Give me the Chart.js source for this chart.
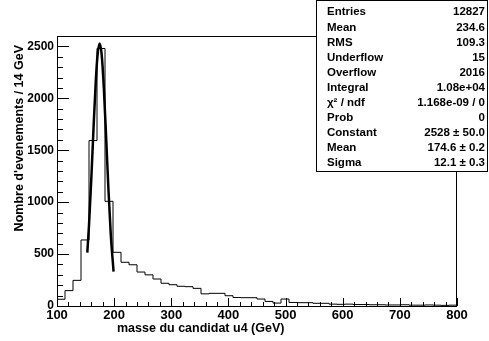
<!DOCTYPE html>
<html>
<head>
<meta charset="utf-8">
<script src="https://cdn.jsdelivr.net/npm/chart.js@4.4.1/dist/chart.umd.min.js"></script>
<style>
  body { margin: 0; background: #fff; }
  #wrap { width: 489px; height: 341px; }
</style>
</head>
<body>
<div id="wrap"><canvas id="c" width="489" height="341"></canvas></div>
<script>
// histogramme : 50 bins de 14 GeV entre 100 et 800
const binStart = 100;
const binWidth = 14;
const counts = [
  65, 148, 247, 636, 1593, 2480, 1008, 517, 421, 397,
  327, 300, 260, 219, 205, 190, 186, 170, 117, 122,
  122, 99, 82, 80, 80, 67, 44, 28, 67, 34,
  32, 32, 26, 26, 18, 16, 18, 14, 14, 12,
  12, 10, 10, 12, 8, 8, 10, 8, 6, 8
];

// courbe du fit gaussien
const fitX = [153, 156, 160, 164, 168, 171, 174.6, 178, 182, 186, 190, 194, 199];
const fitY = [514, 776, 1221, 1722, 2179, 2419, 2528, 2430, 2097, 1622, 1125, 699, 331];

const xTicks = [100, 200, 300, 400, 500, 600, 700, 800];
const yTicks = [0, 500, 1000, 1500, 2000, 2500];

const statsLabels = ['Entries', 'Mean', 'RMS', 'Underflow', 'Overflow', 'Integral',
  'χ² / ndf', 'Prob', 'Constant', 'Mean', 'Sigma'];
const statsValues = ['12827', '234.6', '109.3', '15', '2016', '1.08e+04',
  '1.168e-09 / 0', '0', '2528 ± 50.0', '174.6 ± 0.2', '12.1 ± 0.3'];

const histPts = counts.map((v, i) => ({ x: binStart + binWidth * i, y: v }));
histPts.push({ x: binStart + binWidth * counts.length, y: counts[counts.length - 1] });

const FONT = '"Liberation Sans", Arial, sans-serif';

const rootStyle = {
  id: 'rootStyle',
  afterDraw(chart) {
    const ctx = chart.ctx;
    const a = chart.chartArea;
    const xs = chart.scales.x, ys = chart.scales.y;
    ctx.save();
    ctx.strokeStyle = '#000';
    ctx.lineWidth = 1;
    // cadre
    ctx.strokeRect(Math.round(a.left) + 0.5, Math.round(a.top) + 0.5,
      Math.round(a.right - a.left) - 1, Math.round(a.bottom - a.top));
    // graduations x
    ctx.beginPath();
    for (let v = 100; v <= 800; v += 20) {
      const px = Math.round(xs.getPixelForValue(v)) + 0.5;
      const len = v % 100 === 0 ? 8 : 4;
      ctx.moveTo(px, a.bottom);
      ctx.lineTo(px, a.bottom - len);
    }
    // graduations y
    for (let v = 0; v <= 2600; v += 100) {
      const py = Math.round(ys.getPixelForValue(v)) + 0.5;
      const len = v % 500 === 0 ? 12 : 6;
      ctx.moveTo(a.left, py);
      ctx.lineTo(a.left + len, py);
    }
    ctx.stroke();

    // titres des axes
    ctx.fillStyle = '#000';
    ctx.font = 'bold 12.5px ' + FONT;
    ctx.textAlign = 'left';
    ctx.textBaseline = 'middle';
    ctx.fillText('masse du candidat u4 (GeV)', 117, 329);
    ctx.save();
    ctx.translate(20, 45);
    ctx.rotate(-Math.PI / 2);
    ctx.textAlign = 'right';
    ctx.fillText("Nombre d'evenements / 14 GeV", 0, 0);
    ctx.restore();

    // boite de statistiques
    ctx.fillStyle = '#fff';
    ctx.fillRect(316, 0, 173, 172);
    ctx.strokeRect(316.5, 0.5, 171, 171);
    ctx.fillStyle = '#000';
    ctx.font = 'bold 11.5px ' + FONT;
    statsLabels.forEach((lab, i) => {
      const y = 12.3 + 15.1 * i;
      ctx.textAlign = 'left';
      ctx.fillText(lab, 327, y);
      ctx.textAlign = 'right';
      ctx.fillText(statsValues[i], 485, y);
    });
    ctx.restore();
  }
};

new Chart(document.getElementById('c'), {
  type: 'line',
  data: {
    datasets: [
      {
        data: histPts,
        stepped: 'before',
        borderColor: '#000',
        borderWidth: 1,
        pointRadius: 0,
        fill: false
      },
      {
        data: fitX.map((x, i) => ({ x: x, y: fitY[i] })),
        borderColor: '#000',
        borderWidth: 2.5,
        pointRadius: 0,
        cubicInterpolationMode: 'monotone',
        fill: false
      }
    ]
  },
  options: {
    responsive: false,
    animation: false,
    layout: { padding: { top: 36, right: 32, left: 0, bottom: 0 } },
    plugins: { legend: { display: false }, tooltip: { enabled: false } },
    scales: {
      x: {
        type: 'linear',
        min: 100,
        max: 800,
        afterFit: s => { s.height = 35; },
        afterBuildTicks: s => { s.ticks = xTicks.map(v => ({ value: v })); },
        grid: { display: false, drawTicks: false },
        border: { display: false },
        ticks: {
          padding: 2,
          maxRotation: 0,
          color: '#000',
          callback: v => String(v),
          font: { family: FONT, size: 13, weight: 'bold' }
        }
      },
      y: {
        min: 0,
        max: 2600,
        afterFit: s => { s.width = 57; },
        afterBuildTicks: s => { s.ticks = yTicks.map(v => ({ value: v })); },
        grid: { display: false, drawTicks: false },
        border: { display: false },
        ticks: {
          padding: 3,
          color: '#000',
          callback: v => String(v),
          font: { family: FONT, size: 12, weight: 'bold' }
        }
      }
    }
  },
  plugins: [rootStyle]
});
</script>
</body>
</html>
